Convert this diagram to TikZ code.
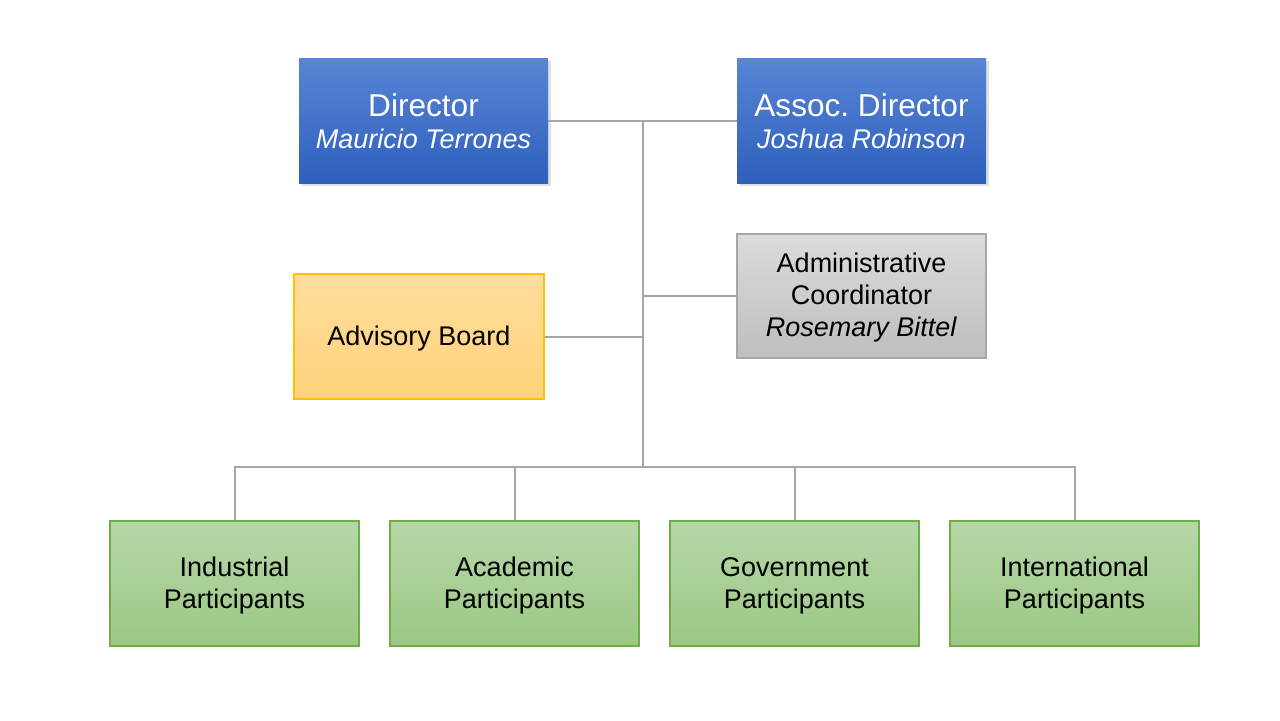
\documentclass[tikz,border=0pt]{standalone}
\usepackage{fontspec}
\setmainfont{Liberation Sans}
\usetikzlibrary{shadows}
\definecolor{bluetop}{RGB}{88,133,212}
\definecolor{bluebot}{RGB}{46,95,189}
\definecolor{graytop}{RGB}{219,219,219}
\definecolor{graybot}{RGB}{190,190,190}
\definecolor{grayline}{RGB}{166,166,166}
\definecolor{goldtop}{RGB}{255,221,158}
\definecolor{goldbot}{RGB}{255,211,122}
\definecolor{goldline}{RGB}{255,192,0}
\definecolor{greentop}{RGB}{182,215,168}
\definecolor{greenbot}{RGB}{155,200,133}
\definecolor{greenline}{RGB}{112,173,71}
\definecolor{conn}{RGB}{166,166,166}
\newcommand{\topstr}{\rule{0pt}{11.7pt}}
\newcommand{\topstrb}{\rule{0pt}{12.2pt}}
\newcommand{\botstr}{\rule[-1.3pt]{0pt}{1pt}}
\newcommand{\botstrb}{\rule[-0.3pt]{0pt}{1pt}}
\newcommand{\bigline}[1]{{\fontsize{15.8pt}{16pt}\selectfont\topstrb #1}}
\tikzset{
  box/.style={minimum width=124.5pt, minimum height=62.5pt, align=center, inner sep=2pt, font=\fontsize{13.5pt}{16pt}\selectfont},
  bluebox/.style={box, top color=bluetop, bottom color=bluebot, draw=none, text=white,
     drop shadow={shadow xshift=1.3pt, shadow yshift=-1.3pt, opacity=0.25}},
  graybox/.style={box, top color=graytop, bottom color=graybot, draw=grayline, line width=0.6pt},
  goldbox/.style={box, top color=goldtop, bottom color=goldbot, draw=goldline, line width=0.6pt},
  greenbox/.style={box, top color=greentop, bottom color=greenbot, draw=greenline, line width=0.6pt},
  connector/.style={draw=conn, line width=1pt}
}
\begin{document}
\begin{tikzpicture}[x=0.5pt,y=-0.5pt]
\useasboundingbox[fill=white] (0,0) rectangle (1280,720);
\coordinate (top) at (643,121);
\coordinate (bus) at (643,467);
\node[bluebox] (dir) at (423.5,120.5) {\bigline{Director}\\\textit{Mauricio Terrones}\botstrb};
\node[bluebox] (assoc) at (861.5,120.5) {\bigline{Assoc.\ Director}\\\textit{Joshua Robinson}\botstrb};
\node[graybox, minimum height=62pt] (admin) at (861.5,296) {\topstr Administrative\\Coordinator\\\textit{Rosemary Bittel}\botstr};
\node[goldbox, minimum width=125pt] (adv) at (419,336.5) {\topstr Advisory Board\botstr};
\node[greenbox] (g1) at (234.5,583.5) {\topstr Industrial\\Participants\botstr};
\node[greenbox] (g2) at (514.5,583.5) {\topstr Academic\\Participants\botstr};
\node[greenbox] (g3) at (794.5,583.5) {\topstr Government\\Participants\botstr};
\node[greenbox] (g4) at (1074.5,583.5) {\topstr International\\Participants\botstr};
\draw[connector] (dir.east |- top) -- (assoc.west |- top);
\draw[connector] (top) -- (bus);
\draw[connector] (admin.west) -- (admin.west -| top);
\draw[connector] (adv.east) -- (adv.east -| top);
\draw[connector] (g1.north) |- (bus) -| (g4.north);
\draw[connector] (g2.north) -- (g2.north |- bus);
\draw[connector] (g3.north) -- (g3.north |- bus);
\end{tikzpicture}
\end{document}
